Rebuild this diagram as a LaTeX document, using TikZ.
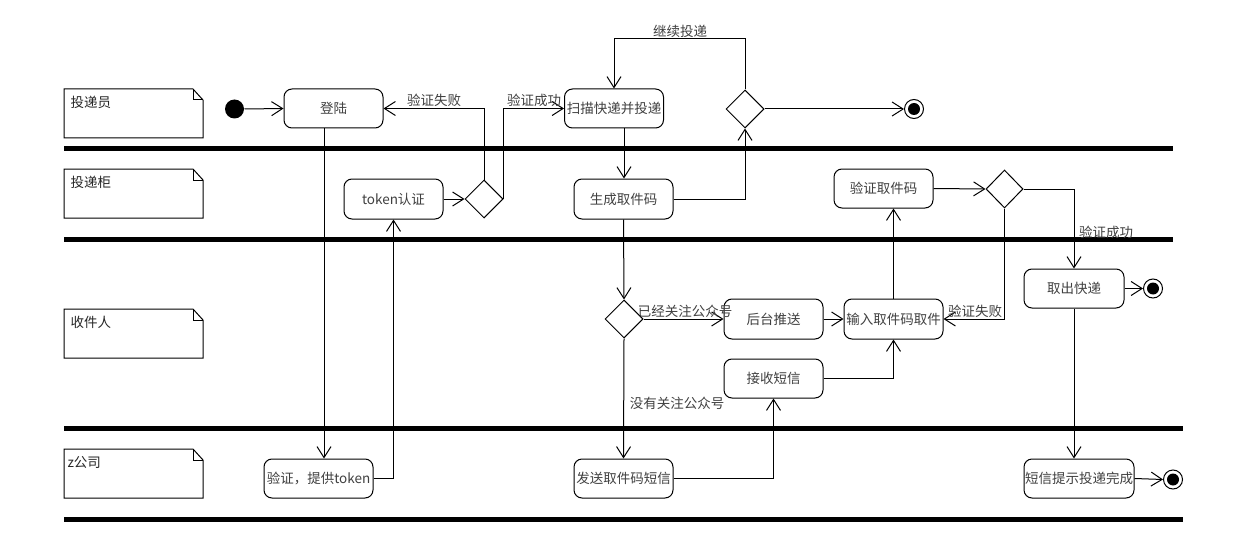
\documentclass[tikz,border=0pt]{standalone}
\usepackage{fontspec}
\setmainfont{Noto Sans CJK SC}
\usetikzlibrary{arrows.meta,shapes.geometric}
\begin{document}
\begin{tikzpicture}[x=1pt,y=-1pt,line width=1pt,
  act/.style={draw, rounded corners=8pt, minimum width=99pt, minimum height=39pt, inner sep=0pt, text=black!75, font=\fontsize{13.5}{15}\selectfont},
  dia/.style={draw, diamond, aspect=1, minimum width=38pt, minimum height=38pt, inner sep=0pt},
  arr/.style={-{Straight Barb[length=11pt,width=14pt,line width=1pt]}},
  lane/.style={line width=5pt},
  lbl/.style={text=black!75, inner sep=0pt, font=\fontsize{13.5}{15}\selectfont},
  lanelbl/.style={text=black!85, inner sep=0pt, anchor=west, font=\fontsize{13.5}{15}\selectfont},
  initst/.style={circle, fill=black, minimum size=19pt, inner sep=0pt},
  endst/.style={circle, draw, minimum size=19pt, inner sep=0pt},
  notebox/.style={draw, line width=1pt, line join=miter}
]
\useasboundingbox (0,0) rectangle (1242,559);
\fill[white] (0,0) rectangle (1242,559);

% lane separators
\draw[lane] (64,149) -- (1173,149);
\draw[lane] (64,239.5) -- (1173,239.5);
\draw[lane] (64,428.5) -- (1183,428.5);
\draw[lane] (64,519) -- (1183,519);

% lane notes
\foreach \yy in {89,169,309,449}{
  \draw[notebox] (64,\yy) -- (193,\yy) -- (203,\yy+11) -- (203,\yy+49) -- (64,\yy+49) -- cycle;
  \draw[notebox] (193,\yy) -- (193,\yy+11) -- (203,\yy+11);
}
\node[lanelbl] (l1) at (70,102) {投递员};
\node[lanelbl] (l2) at (70,182) {投递柜};
\node[lanelbl] (l3) at (70,322) {收件人};
\node[lanelbl] (l4) at (67,462) {z公司};

% nodes
\node[initst] (init) at (234.5,109) {};
\node[act] (login) at (333.5,108.5) {登陆};
\node[act] (scan) at (614,108.5) {扫描快递并投递};
\node[dia] (d1) at (745,109) {};
\node[endst] (fin1) at (914,109) {};
\fill (fin1.center) circle (6pt);

\node[act, minimum height=40pt] (token) at (393.5,199) {token认证};
\node[dia] (d2) at (484,199) {};
\node[act, minimum height=40pt] (gen) at (623.5,199) {生成取件码};
\node[act] (vcode) at (883.5,188.5) {验证取件码};
\node[dia, minimum width=37pt] (d3) at (1004.5,189) {};

\node[act, minimum width=100pt] (take) at (1074,288.5) {取出快递};
\node[endst] (fin2) at (1153,288.5) {};
\fill (fin2.center) circle (6pt);
\node[dia] (d4) at (624,319) {};
\node[act, minimum height=40pt] (push) at (773.5,319) {后台推送};
\node[act, minimum height=40pt] (input) at (893.5,319) {输入取件码取件};
\node[act] (sms) at (773.5,378.5) {接收短信};

\node[act, minimum width=109pt] (auth) at (318.5,478.5) {验证，提供token};
\node[act] (send) at (623.5,478.5) {发送取件码短信};
\node[act, minimum width=110pt] (notify) at (1079,478.5) {短信提示投递完成};
\node[endst] (fin3) at (1173,479.5) {};
\fill (fin3.center) circle (6pt);

% connectors
\draw[arr] (init.east) -- (login.west);
\draw[arr] ([xshift=-9.5pt]login.south) -- ([xshift=-9.5pt]login.south |- auth.north);
\draw[arr] (auth.east) -| (token.south);
\draw[arr] (token.east) -- (d2.west);
\draw[arr] (d2.north) |- (login.east);
\draw[arr] (d2.east) -- (d2.east |- scan.west) -- (scan.west);
\draw[arr] ([xshift=10pt]scan.south) -- ([xshift=10pt]scan.south |- gen.north);
\draw[arr] (gen.east) -| (d1.south);
\draw[arr] (d1.east) -- (fin1.west);
\coordinate (looptop) at (745,39);
\draw[arr] (d1.north) -- (looptop) -| (scan.north);

\draw[arr] (gen.south) -- (d4.north);
\draw[arr] (d4.east) -- (push.west);
\draw[arr] (d4.south) -- (send.north);
\draw[arr] (send.east) -| (sms.south);
\draw[arr] (sms.east) -| (input.south);
\draw[arr] (push.east) -- (input.west);
\draw[arr] (input.north) -- (input.north |- vcode.south);
\draw[arr] (vcode.east) -- (d3.west);
\draw[arr] (d3.east) -| (take.north);
\draw[arr] (d3.south) |- (input.east);
\draw[arr] (take.east) -- (fin2.west);
\draw[arr] (take.south) -- (take.south |- notify.north);
\draw[arr] (notify.east) -- (fin3.west);

% edge labels
\node[lbl] (t1) at (434,100) {验证失败};
\node[lbl] (t2) at (534,100) {验证成功};
\node[lbl] (t3) at (680,31) {继续投递};
\node[lbl] (t4) at (1106,232) {验证成功};
\node[lbl] (t5) at (685,311) {已经关注公众号};
\node[lbl] (t6) at (677,403) {没有关注公众号};
\node[lbl] (t7) at (975,311) {验证失败};
\end{tikzpicture}
\end{document}
